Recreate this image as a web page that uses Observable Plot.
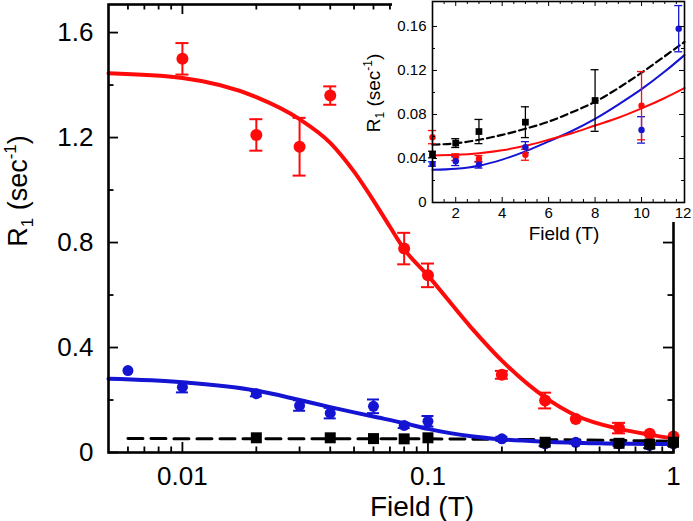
<!DOCTYPE html>
<html><head><meta charset="utf-8">
<script src="https://cdn.jsdelivr.net/npm/d3@7"></script>
<script src="https://cdn.jsdelivr.net/npm/@observablehq/plot@0.6"></script>
<style>
body{margin:0;background:#fff;}
#wrap{position:relative;width:693px;height:521px;overflow:hidden;background:#fff;}
#wrap svg{position:absolute;top:0;left:0;}
#insetbg{position:absolute;left:392px;top:0;width:301px;height:222px;background:#fff;}
text{white-space:pre;}
</style></head><body><div id="wrap"></div>
<script>
// ---------- Main panel data (Field in T, R1 in s^-1) ----------
const redField = [0.01, 0.02, 0.03, 0.04, 0.08, 0.1, 0.2, 0.3, 0.4, 0.6, 0.8, 1];
const redR1    = [1.50, 1.21, 1.165, 1.36, 0.777, 0.675, 0.296, 0.198, 0.128, 0.093, 0.071, 0.061];
const redErr   = [0.06, 0.06, 0.11, 0.035, 0.06, 0.045, 0.015, 0.03, 0, 0.02, 0, 0];

const blueField = [0.006, 0.01, 0.02, 0.03, 0.04, 0.06, 0.08, 0.1, 0.2, 0.3, 0.4, 0.6, 0.8, 1];
const blueR1    = [0.312, 0.249, 0.224, 0.179, 0.15, 0.176, 0.103, 0.119, 0.052, 0.033, 0.039, 0.033, 0.027, 0.033];
const blueErr   = [0, 0.02, 0.01, 0.02, 0.02, 0.026, 0.01, 0.02, 0.008, 0.008, 0.005, 0.008, 0.01, 0.008];

const blackField = [0.02, 0.04, 0.06, 0.08, 0.1, 0.3, 0.6, 0.8, 1];
const blackR1    = [0.056, 0.056, 0.053, 0.052, 0.056, 0.039, 0.035, 0.032, 0.039];

const redFitField = [0.005, 0.01, 0.02, 0.03, 0.04, 0.05, 0.06, 0.07, 0.08, 0.1, 0.15, 0.2, 0.3, 0.4, 0.6, 0.8, 1];
const redFitR1    = [1.445, 1.427, 1.354, 1.27, 1.18, 1.07, 0.96, 0.86, 0.775, 0.674, 0.476, 0.35, 0.21, 0.141, 0.09, 0.068, 0.053];
const blueFitField = [0.005, 0.01, 0.02, 0.03, 0.04, 0.05, 0.06, 0.08, 0.1, 0.15, 0.2, 0.3, 0.5, 1];
const blueFitR1    = [0.281, 0.268, 0.236, 0.2, 0.173, 0.153, 0.137, 0.112, 0.09, 0.062, 0.05, 0.041, 0.035, 0.032];
const blackFitField = [0.006, 0.1, 0.3, 0.6, 1];
const blackFitR1    = [0.053, 0.052, 0.049, 0.046, 0.043];

const xMajorTicks = [0.01, 0.1, 1];
const xMinorTicks = [0.006, 0.007, 0.008, 0.009, 0.02, 0.03, 0.04, 0.05, 0.06, 0.07, 0.08, 0.09,
                     0.2, 0.3, 0.4, 0.5, 0.6, 0.7, 0.8, 0.9];
const yMajorTicks = [0, 0.4, 0.8, 1.2, 1.6];
const yMinorTicks = [0.2, 0.6, 1.0, 1.4];

// ---------- Inset data (Field in T, linear) ----------
const insBlackField = [1, 2, 3, 5, 8];
const insBlackR1    = [0.0436, 0.054, 0.0645, 0.073, 0.0927];
const insBlackErr   = [0.003, 0.004, 0.011, 0.014, 0.028];
const insRedField = [1, 2, 3, 5, 10];
const insRedR1    = [0.0594, 0.0412, 0.0397, 0.0434, 0.088];
const insRedErr   = [0.006, 0.003, 0.003, 0.005, 0.031];
const insBlueField = [1, 2, 3, 5, 10, 11.6];
const insBlueR1    = [0.035, 0.0376, 0.0343, 0.0503, 0.066, 0.158];
const insBlueErr   = [0.002, 0.004, 0.003, 0.005, 0.012, 0.021];

const insFitField   = [1, 2, 3, 4, 5, 6, 7, 8, 9, 10, 11, 11.85];
const insBlackFitR1 = [0.0525, 0.0538, 0.057, 0.0615, 0.067, 0.0735, 0.082, 0.0915, 0.104, 0.118, 0.133, 0.146];
const insRedFitR1   = [0.0427, 0.0433, 0.0448, 0.0475, 0.0515, 0.057, 0.063, 0.07, 0.077, 0.0855, 0.095, 0.104];
const insBlueFitR1  = [0.0297, 0.0307, 0.0335, 0.039, 0.0465, 0.0555, 0.065, 0.076, 0.089, 0.103, 0.119, 0.134];

const insXLabelTicks = [2, 4, 6, 8, 10];
const insXEdgeLabel  = [12];
const insXTickMarks  = [2, 4, 6, 8, 10];
const insXMinorTicks = [1.5, 2.5, 3, 3.5, 4.5, 5, 5.5, 6.5, 7, 7.5, 8.5, 9, 9.5, 10.5, 11, 11.5];
const insYMajorTicks = [0, 0.04, 0.08, 0.12, 0.16];
const insYMinorTicks = [0.02, 0.06, 0.1, 0.14];

// ---------- helpers ----------
const RED = "#ff0a0a", BLUE = "#1414d2", BLACK = "#000";
const FONT = '"Liberation Sans", Arial, Helvetica, sans-serif';
const rows = (xs, ys, es) => xs.map((x, i) => ({x, y: ys[i], e: es ? es[i] : 0}));

function errBars(data, color, sw, cap) {
  const d = data.filter(r => r.e > 0);
  const o = {stroke: color, strokeWidth: sw};
  return [
    Plot.ruleX(d, {x: "x", y1: r => r.y - r.e, y2: r => r.y + r.e, ...o}),
    Plot.ruleY(d, {y: r => r.y + r.e, x1: "x", x2: "x", insetLeft: -cap, insetRight: -cap, ...o}),
    Plot.ruleY(d, {y: r => r.y - r.e, x1: "x", x2: "x", insetLeft: -cap, insetRight: -cap, ...o})
  ];
}
function tickMarks(xMaj, xMin, yMaj, yMin, iw, ih, lMaj, lMin, sw) {
  const o = {stroke: "black", strokeWidth: sw};
  return [
    Plot.tickX(xMaj, {x: d => d, insetTop: ih - lMaj, ...o}),
    Plot.tickX(xMaj, {x: d => d, insetBottom: ih - lMaj, ...o}),
    Plot.tickX(xMin, {x: d => d, insetTop: ih - lMin, ...o}),
    Plot.tickX(xMin, {x: d => d, insetBottom: ih - lMin, ...o}),
    Plot.tickY(yMaj, {y: d => d, insetRight: iw - lMaj, ...o}),
    Plot.tickY(yMaj, {y: d => d, insetLeft: iw - lMaj, ...o}),
    Plot.tickY(yMin, {y: d => d, insetRight: iw - lMin, ...o}),
    Plot.tickY(yMin, {y: d => d, insetLeft: iw - lMin, ...o})
  ];
}
function r1Label(svg, x, y, size) {
  const sub = Math.round(size * 0.62);
  const t = svg.append("text")
    .attr("transform", `translate(${x},${y}) rotate(-90)`)
    .attr("text-anchor", "middle").attr("font-size", size)
    .attr("font-family", FONT).attr("fill", "black").style("white-space", "pre");
  t.append("tspan").text("R");
  t.append("tspan").attr("font-size", sub).attr("dy", size * 0.22).text("1");
  t.append("tspan").attr("dy", -size * 0.22).text(" (sec");
  t.append("tspan").attr("font-size", sub).attr("dy", -size * 0.4).text("-1");
  t.append("tspan").attr("dy", size * 0.4).text(")");
}
function plainLabel(svg, x, y, size, txt) {
  svg.append("text").attr("x", x).attr("y", y).attr("text-anchor", "middle")
    .attr("font-size", size).attr("font-family", FONT).attr("fill", "black").text(txt);
}

// ---------- main plot ----------
const W = 693, H = 521, mT = 4, mR = 20, mB = 69, mL = 108;
const iw = W - mL - mR, ih = H - mT - mB;
const red = rows(redField, redR1, redErr);
const blue = rows(blueField, blueR1, blueErr);
const black = rows(blackField, blackR1);

const main = Plot.plot({
  width: W, height: H, marginTop: mT, marginRight: mR, marginBottom: mB, marginLeft: mL,
  style: {fontFamily: FONT, background: "transparent", color: "black", overflow: "visible"},
  x: {type: "log", domain: [0.005, 1]},
  y: {domain: [0, 1.707]},
  marks: [
    Plot.line(rows(blackFitField, blackFitR1), {x: "x", y: "y", stroke: BLACK, strokeWidth: 3, strokeDasharray: "15,8"}),
    Plot.line(rows(blueFitField, blueFitR1), {x: "x", y: "y", stroke: BLUE, strokeWidth: 4, curve: "monotone-x"}),
    Plot.line(rows(redFitField, redFitR1), {x: "x", y: "y", stroke: RED, strokeWidth: 4, curve: "monotone-x"}),
    ...errBars(red, RED, 2, 6.5),
    ...errBars(blue, BLUE, 2, 6),
    Plot.dot(red, {x: "x", y: "y", r: 6, fill: RED}),
    Plot.dot(blue, {x: "x", y: "y", r: 5.5, fill: BLUE}),
    Plot.dot(black, {x: "x", y: "y", r: 6.2, symbol: "square", fill: BLACK}),
    ...tickMarks(xMajorTicks, xMinorTicks, yMajorTicks, yMinorTicks, iw, ih, 10, 5.5, 1.8),
    Plot.frame({stroke: "black", strokeWidth: 2.6}),
    Plot.axisX(xMajorTicks, {tickSize: 0, tickPadding: 14, fontSize: 26, tickFormat: d => String(d), label: null}),
    Plot.axisY(yMajorTicks, {tickSize: 0, tickPadding: 15, fontSize: 26, tickFormat: d => d === 0 ? "0" : d.toFixed(1), label: null})
  ]
});
const msvg = d3.select(main);
r1Label(msvg, 27, 191, 27);
plainLabel(msvg, 422, 516, 28, "Field (T)");

// ---------- inset ----------
const IW = 353, IH = 250, imT = 1, imR = 9, imB = 48, imL = 92;
const iiw = IW - imL - imR, iih = IH - imT - imB;
const inset = Plot.plot({
  width: IW, height: IH, marginTop: imT, marginRight: imR, marginBottom: imB, marginLeft: imL,
  style: {fontFamily: FONT, background: "transparent", color: "black", overflow: "visible"},
  x: {domain: [1, 11.85]},
  y: {domain: [0, 0.1827]},
  marks: [
    Plot.line(rows(insFitField, insBlackFitR1), {x: "x", y: "y", stroke: BLACK, strokeWidth: 2.2, strokeDasharray: "7,4", curve: "monotone-x"}),
    Plot.line(rows(insFitField, insBlueFitR1), {x: "x", y: "y", stroke: BLUE, strokeWidth: 2, curve: "monotone-x"}),
    Plot.line(rows(insFitField, insRedFitR1), {x: "x", y: "y", stroke: RED, strokeWidth: 2, curve: "monotone-x"}),
    ...errBars(rows(insBlackField, insBlackR1, insBlackErr), BLACK, 1.3, 4),
    ...errBars(rows(insBlueField, insBlueR1, insBlueErr), BLUE, 1.3, 4),
    ...errBars(rows(insRedField, insRedR1, insRedErr), RED, 1.3, 4),
    Plot.dot(rows(insRedField, insRedR1), {x: "x", y: "y", r: 3.2, fill: RED}),
    Plot.dot(rows(insBlueField, insBlueR1), {x: "x", y: "y", r: 3.2, fill: BLUE}),
    Plot.dot(rows(insBlackField, insBlackR1), {x: "x", y: "y", r: 3.8, symbol: "square", fill: BLACK}),
    ...tickMarks(insXTickMarks, insXMinorTicks, insYMajorTicks, insYMinorTicks, iiw, iih, 5, 3, 1),
    Plot.frame({stroke: "black", strokeWidth: 1.6}),
    Plot.axisX(insXLabelTicks, {tickSize: 0, tickPadding: 5, fontSize: 15, tickFormat: d => String(d), label: null}),
    Plot.axisX(insXEdgeLabel, {tickSize: 0, tickPadding: 5, fontSize: 15, dx: -5, tickFormat: d => String(d), label: null}),
    Plot.axisY(insYMajorTicks, {tickSize: 0, tickPadding: 6, fontSize: 15, tickFormat: d => d === 0 ? "0" : d.toFixed(2), label: null})
  ]
});
const isvg = d3.select(inset);
r1Label(isvg, 40, 93, 19);
plainLabel(isvg, 224, 240, 19, "Field (T)");

const wrap = document.getElementById("wrap");
wrap.appendChild(main);
const bg = document.createElement("div"); bg.id = "insetbg"; wrap.appendChild(bg);
inset.style.left = "340px"; inset.style.top = "0px";
wrap.appendChild(inset);
</script>
</body></html>
